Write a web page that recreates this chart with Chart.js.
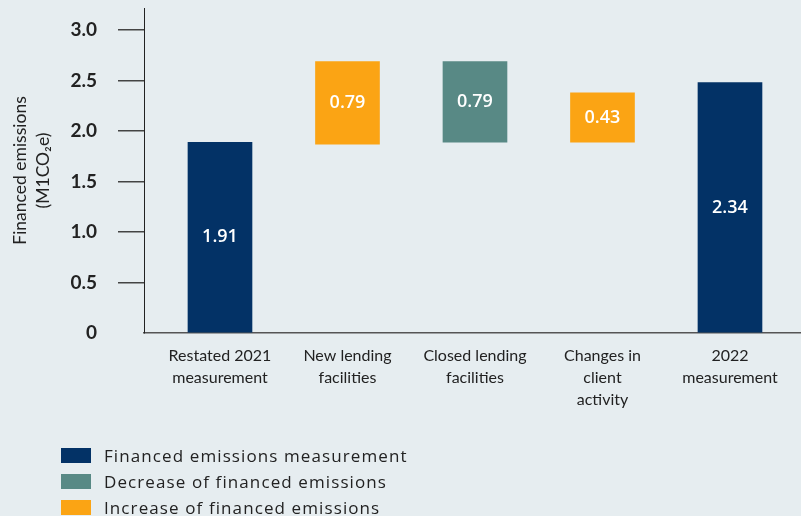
<!DOCTYPE html>
<html>
<head>
<meta charset="utf-8">
<script src="https://cdn.jsdelivr.net/npm/chart.js@4.4.0/dist/chart.umd.min.js"></script>
<style>
  html, body { margin: 0; padding: 0; background: #e6edf0; }
  #wrap { position: relative; width: 801px; height: 516px; overflow: hidden; }
  #legend { position: absolute; left: 61px; top: 442px; font-family: "Open Sans", sans-serif; font-size: 17px; letter-spacing: 1.1px; color: #222; }
  .item { height: 26px; display: flex; align-items: center; }
  .box { width: 30px; height: 15px; margin-right: 13px; }
</style>
</head>
<body>
<div id="wrap">
  <canvas id="myChart" width="801" height="516"></canvas>
  <div id="legend"></div>
</div>
<script>
// categories and values
var categories = [
    ["Restated 2021", "measurement"],
    ["New lending", "facilities"],
    ["Closed lending", "facilities"],
    ["Changes in", "client", "activity"],
    ["2022", "measurement"]
];
var barStart = [0, 1.87, 1.89, 1.89, 0];
var barEnd = [1.89, 2.69, 2.69, 2.38, 2.48];
var valueLabels = ["1.91", "0.79", "0.79", "0.43", "2.34"];
var barType = ["measure", "increase", "decrease", "increase", "measure"];
var yTicks = [0, 0.5, 1.0, 1.5, 2.0, 2.5, 3.0];

var typeNames = {
    measure: "Financed emissions measurement",
    decrease: "Decrease of financed emissions",
    increase: "Increase of financed emissions"
};
var typeColors = {
    measure: '#033266',
    decrease: '#588985',
    increase: '#fba414'
};

var points = categories.map(function (c, i) {
    return { x: i, y: [barStart[i], barEnd[i]] };
});

var barLabels = {
    id: 'barLabels',
    afterDatasetsDraw: function (chart) {
        var ctx = chart.ctx;
        var meta = chart.getDatasetMeta(0);
        ctx.save();
        ctx.fillStyle = '#ffffff';
        ctx.font = '600 18px "Open Sans", sans-serif';
        ctx.textAlign = 'center';
        ctx.textBaseline = 'middle';
        meta.data.forEach(function (bar, i) {
            var p = bar.getProps(['x', 'y', 'base'], true);
            ctx.fillText(valueLabels[i], p.x, (p.y + p.base) / 2);
        });
        ctx.restore();
    }
};

// fixed scale boxes so the plot sits where the original's does
function noPad(scale) {
    scale.paddingTop = 0;
    scale.paddingBottom = 0;
    scale.paddingLeft = 0;
    scale.paddingRight = 0;
}

var ctx = document.getElementById("myChart");
var myChart = new Chart(ctx, {
    type: 'bar',
    data: {
        datasets: [{
            data: points,
            backgroundColor: barType.map(function (t) { return typeColors[t]; }),
            barThickness: 64,
            borderSkipped: false
        }]
    },
    options: {
        responsive: false,
        animation: false,
        layout: { autoPadding: false, padding: { top: 8, right: 0, left: 0, bottom: 0 } },
        plugins: {
            legend: { display: false },
            tooltip: { enabled: false }
        },
        scales: {
            x: {
                type: 'linear',
                offset: false,
                min: -0.596,
                max: 4.557,
                afterBuildTicks: function (scale) {
                    scale.ticks = categories.map(function (c, i) { return { value: i }; });
                },
                afterFit: function (scale) { scale.height = 183; noPad(scale); },
                grid: { display: false, drawTicks: false },
                border: { display: true, color: '#555555', width: 1.5 },
                ticks: {
                    padding: 12,
                    maxRotation: 0,
                    autoSkip: false,
                    color: '#222222',
                    font: { family: 'Lato', size: 16, lineHeight: 1.38 },
                    callback: function (v) { return categories[v]; }
                }
            },
            y: {
                min: 0,
                max: 3.22,
                afterBuildTicks: function (scale) {
                    scale.ticks = yTicks.map(function (v) { return { value: v }; });
                },
                afterFit: function (scale) { scale.width = 144; noPad(scale); },
                grid: {
                    drawOnChartArea: false,
                    tickLength: 26,
                    lineWidth: 1.5,
                    color: function (c) { return c.tick && c.tick.value === 0 ? 'rgba(0,0,0,0)' : '#444444'; }
                },
                border: { display: true, color: '#222222', width: 1 },
                ticks: {
                    padding: 21,
                    color: '#222222',
                    font: { family: 'Lato', size: 19, weight: 'bold' },
                    callback: function (v) { return v === 0 ? '0' : v.toFixed(1); }
                },
                title: {
                    display: true,
                    text: ["Financed emissions", "(M1CO\u2082e)"],
                    color: '#222222',
                    padding: { top: 9, bottom: 0 },
                    font: { family: 'Lato', size: 17.5, lineHeight: 1.3 }
                }
            }
        }
    },
    plugins: [barLabels]
});

// legend rows, one per bar type
var legendEl = document.getElementById('legend');
['measure', 'decrease', 'increase'].forEach(function (t) {
    var row = document.createElement('div');
    row.className = 'item';
    var box = document.createElement('span');
    box.className = 'box';
    box.style.background = typeColors[t];
    var label = document.createElement('span');
    label.textContent = typeNames[t];
    row.appendChild(box);
    row.appendChild(label);
    legendEl.appendChild(row);
});
</script>
</body>
</html>
